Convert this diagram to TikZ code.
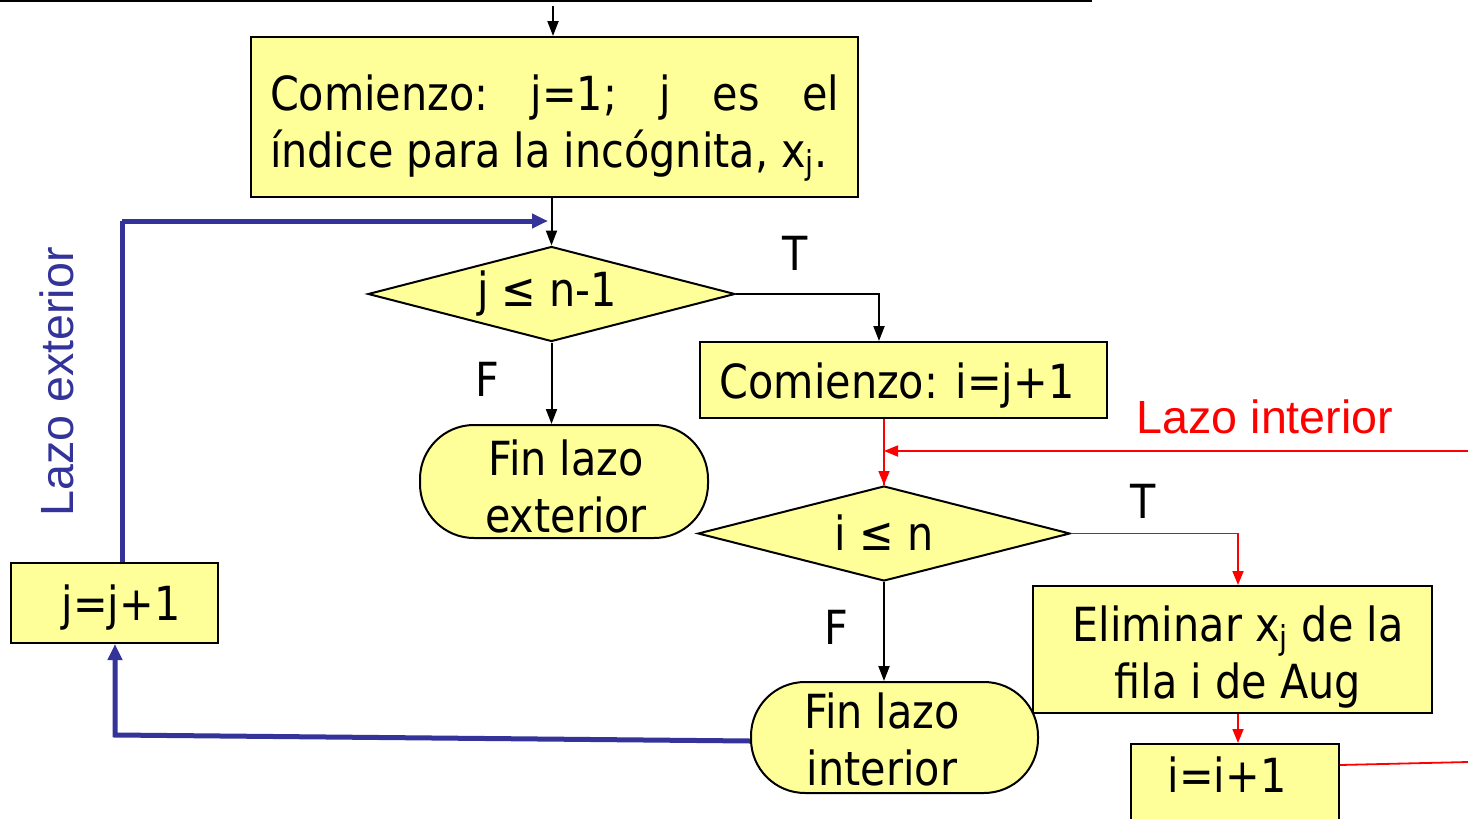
\documentclass[tikz,border=0pt]{standalone}
\usepackage{fontspec}
\setmainfont{DejaVu Sans}[FakeStretch=0.88]
\newfontfamily\labfont{Liberation Sans}
\usetikzlibrary{shapes.geometric,arrows.meta}
\definecolor{boxyellow}{RGB}{255,255,153}
\definecolor{loopblue}{RGB}{51,51,153}
\definecolor{loopred}{RGB}{255,0,0}
\tikzset{
  box/.style={draw=black, line width=1pt, fill=boxyellow, inner sep=0pt},
  term/.style={draw=black, line width=1pt, fill=boxyellow, inner sep=0pt, rounded corners=27pt},
  dia/.style={draw=black, line width=1pt, fill=boxyellow, diamond, inner sep=0pt},
  txt/.style={font=\fontsize{23.5pt}{28.5pt}\selectfont, inner sep=0pt, align=center},
  lab/.style={font=\fontsize{23.5pt}{28.5pt}\selectfont, inner sep=0pt, anchor=base},
  blk/.style={draw=black, line width=1pt, -{Triangle[length=7.5pt,width=5.5pt]}},
  redl/.style={draw=loopred, line width=0.9pt},
  reda/.style={redl, -{Triangle[length=7pt,width=5.5pt]}},
  bluel/.style={draw=loopblue, line width=2.5pt},
  bluea/.style={bluel, -{Triangle[length=8pt,width=7pt]}},
}
\begin{document}
\begin{tikzpicture}[x=0.5pt,y=-0.5pt]
\useasboundingbox (0,0) rectangle (1468,819);
\begin{scope}
\clip (0,0) rectangle (1468,819);
% top line
\coordinate (tl0) at (0,1);
\coordinate (tl1) at (1092,1);
\draw[line width=1pt] (tl0) -- (tl1);
\coordinate (in0) at (553,6);
% box 1
\node[box, minimum width=303.5pt, minimum height=80pt] (b1) at (554.5,117) {};
\node[txt, text width=284.5pt, align=justify] (t1) at (554.5,128) {Comienzo:\ \ j=1;\ \ j\ \ es\ \ el índice para la incógnita, x\textsubscript{j}.};
\draw[blk] (in0) -- (b1.north -| in0);
% diamond 1
\node[dia, minimum width=183.5pt, minimum height=47.5pt, shape aspect=3.86] (d1) at (551.5,294) {};
\node[txt] (td1) at (547,294) {j ≤ n-1};
\draw[blk] (b1.south -| d1.north) -- (d1.north);
\node[lab] (T1) at (795,270) {T};
\node[lab] (F1) at (487,396) {F};
% box 2
\node[box, minimum width=203.5pt, minimum height=38pt] (b2) at (903.5,380) {};
\node[txt] (tb2) at (897,386) {Comienzo: i=j+1};
\draw[blk] (d1.east) -| (b2.north -| 879,0);
% terminal 1
\node[term, minimum width=144pt, minimum height=56.5pt] (e1) at (564,481.5) {};
\node[txt] (te1) at (566,486) {Fin lazo\\exterior};
\draw[blk] (d1.south) -- (d1.south |- e1.north);
% diamond 2
\node[dia, minimum width=186pt, minimum height=47.5pt, shape aspect=3.9] (d2) at (884,533.5) {};
\node[txt] (td2) at (884,533) {i ≤ n};
\coordinate (rin) at (1468,451);
\coordinate (rj) at (884,451);
\draw[redl] (b2.south -| d2.north) -- (d2.north);
\draw[reda] (rin) -- (rj);
\draw[reda] (rj) -- (d2.north);
\node[lab, text=loopred, font=\labfont\fontsize{23.3pt}{28pt}\selectfont] (lint) at (1265,433) {Lazo interior};
\node[lab] (T2) at (1143,518) {T};
\node[lab] (F2) at (836,644) {F};
% box 3
\node[box, minimum width=199.5pt, minimum height=63.5pt] (b3) at (1232.5,649.5) {};
\node[txt] (tb3) at (1238,657) {Eliminar x\textsubscript{j} de la\\fila i de Aug};
\draw[reda] (d2.east) -| (b3.north -| 1238,0);
% box 4
\node[box, minimum width=104pt, minimum height=45pt] (b4) at (1235,789) {};
\node[txt] (tb4) at (1227,775) {i=i+1};
\draw[reda] (b3.south -| 1238,0) -- (b4.north -| 1238,0);
\coordinate (rout) at (1468,762);
\draw[redl] (b4.east |- 0,765) -- (rout);
% terminal 2
\node[term, minimum width=143.5pt, minimum height=55.5pt] (e2) at (894.5,737.5) {};
\node[txt] (te2) at (882,739) {Fin lazo\\interior};
\draw[blk] (d2.south) -- (e2.north -| d2.south);
% box 5
\node[box, minimum width=103.5pt, minimum height=40pt] (b5) at (114.5,603) {};
\node[txt] (tb5) at (121,608) {j=j+1};
\coordinate (bl1) at (115,735);
\draw[bluea] (e2.west |- 0,741) -- (bl1) -- (b5.south -| bl1);
\coordinate (bl2) at (122,221);
\draw[bluel] (b5.north -| bl2) -- (bl2);
\draw[bluea] (bl2) -- (548,221);
\node[lab, text=loopblue, font=\labfont\fontsize{23.3pt}{28pt}\selectfont, rotate=90] (lext) at (73,382) {Lazo exterior};
\end{scope}
\end{tikzpicture}
\end{document}
